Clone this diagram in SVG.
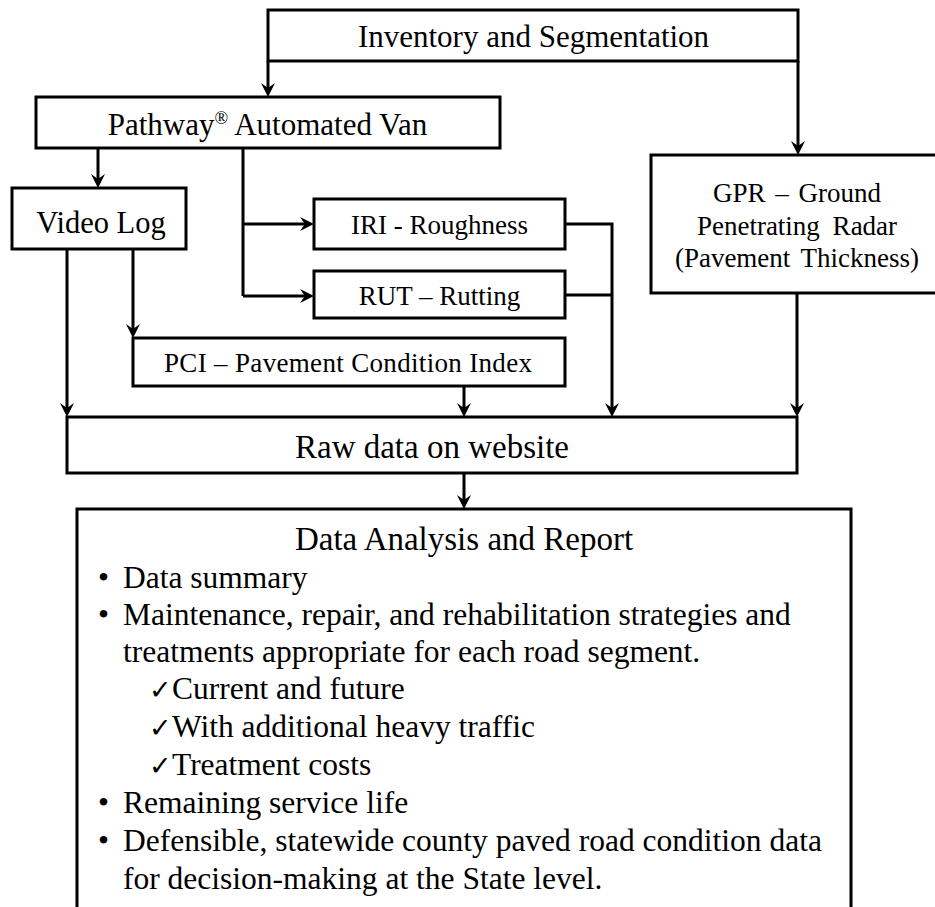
<svg xmlns="http://www.w3.org/2000/svg" width="935" height="907" viewBox="0 0 935 907">
<style>
  .box { fill: #ffffff; stroke: #000000; stroke-width: 3; }
  .t { font-family: "Liberation Serif", "Times New Roman", "DejaVu Serif", serif; fill: #000000; }
  .c { text-anchor: middle; }
  .s27 { font-size: 27px; }
  .s31 { font-size: 31px; }
  .s33 { font-size: 33px; }
  .li { font-size: 31.5px; }
  .ck { font-family: "DejaVu Sans", "Noto Sans", sans-serif; font-size: 27px; fill: #000000; }
  .conn path { fill: none; stroke: #000000; stroke-width: 3; }
</style>
<defs>
  <marker id="arr" viewBox="0 0 14 14" refX="9" refY="7" markerWidth="14" markerHeight="14" markerUnits="userSpaceOnUse" orient="auto">
    <path d="M0,0 L14,7 L0,14 L5,7 z" fill="#000000"/>
  </marker>
</defs>
<rect width="935" height="907" fill="#ffffff"/>

<g id="inventory">
  <rect class="box" x="268" y="10" width="530" height="51"/>
  <text class="t s31 c" x="533.5" y="47">Inventory and Segmentation</text>
</g>

<g id="pathway">
  <rect class="box" x="36" y="97" width="464" height="51"/>
  <text class="t s31 c" x="267.5" y="135">Pathway<tspan font-size="18" dy="-11">®</tspan><tspan dy="11"> Automated Van</tspan></text>
</g>

<g id="videolog">
  <rect class="box" x="12" y="188" width="174" height="61"/>
  <text class="t c" font-size="30.5" x="101" y="233">Video Log</text>
</g>

<g id="iri">
  <rect class="box" x="314" y="199" width="251" height="50"/>
  <text class="t s27 c" x="439.5" y="234">IRI - Roughness</text>
</g>

<g id="rut">
  <rect class="box" x="314" y="271" width="251" height="47"/>
  <text class="t s27 c" x="439.5" y="305">RUT – Rutting</text>
</g>

<g id="pci">
  <rect class="box" x="133" y="338" width="432" height="48"/>
  <text class="t s27" x="164" y="372" textLength="368">PCI – Pavement Condition Index</text>
</g>

<g id="gpr">
  <rect class="box" x="651" y="155" width="300" height="138"/>
  <text class="t s27 c" x="797" y="202" word-spacing="3">GPR – Ground</text>
  <text class="t s27 c" x="797" y="235" word-spacing="6">Penetrating Radar</text>
  <text class="t s27 c" x="797" y="267" word-spacing="4">(Pavement Thickness)</text>
</g>

<g id="rawdata">
  <rect class="box" x="67" y="417" width="730" height="56"/>
  <text class="t s33 c" x="432" y="458">Raw data on website</text>
</g>

<g id="analysis">
  <rect class="box" x="77" y="509" width="774" height="420"/>
  <text class="t s33 c" x="464" y="550">Data Analysis and Report</text>
  <text class="t li" x="98" y="588">•</text>
  <text class="t li" x="123" y="588">Data summary</text>
  <text class="t li" x="98" y="625">•</text>
  <text class="t li" x="123" y="625">Maintenance, repair, and rehabilitation strategies and</text>
  <text class="t li" x="123" y="662">treatments appropriate for each road segment.</text>
  <text class="ck" x="149" y="699">✓</text>
  <text class="t li" x="172" y="699">Current and future</text>
  <text class="ck" x="149" y="737">✓</text>
  <text class="t li" x="172" y="737">With additional heavy traffic</text>
  <text class="ck" x="149" y="775">✓</text>
  <text class="t li" x="172" y="775">Treatment costs</text>
  <text class="t li" x="98" y="813">•</text>
  <text class="t li" x="123" y="813">Remaining service life</text>
  <text class="t li" x="98" y="851">•</text>
  <text class="t li" x="123" y="851">Defensible, statewide county paved road condition data</text>
  <text class="t li" x="123" y="889">for decision-making at the State level.</text>
</g>

<g id="connectors" class="conn">
  <path d="M268,61 V92" marker-end="url(#arr)"/>
  <path d="M798,61 V150" marker-end="url(#arr)"/>
  <path d="M98,148 V183" marker-end="url(#arr)"/>
  <path d="M243,148 V296"/>
  <path d="M243,224 H309" marker-end="url(#arr)"/>
  <path d="M243,296 H309" marker-end="url(#arr)"/>
  <path d="M133,249 V333" marker-end="url(#arr)"/>
  <path d="M67,249 V412" marker-end="url(#arr)"/>
  <path d="M464,386 V412" marker-end="url(#arr)"/>
  <path d="M565,224 H612 V412" marker-end="url(#arr)"/>
  <path d="M565,295 H612"/>
  <path d="M797,293 V412" marker-end="url(#arr)"/>
  <path d="M464,473 V504" marker-end="url(#arr)"/>
</g>
</svg>
